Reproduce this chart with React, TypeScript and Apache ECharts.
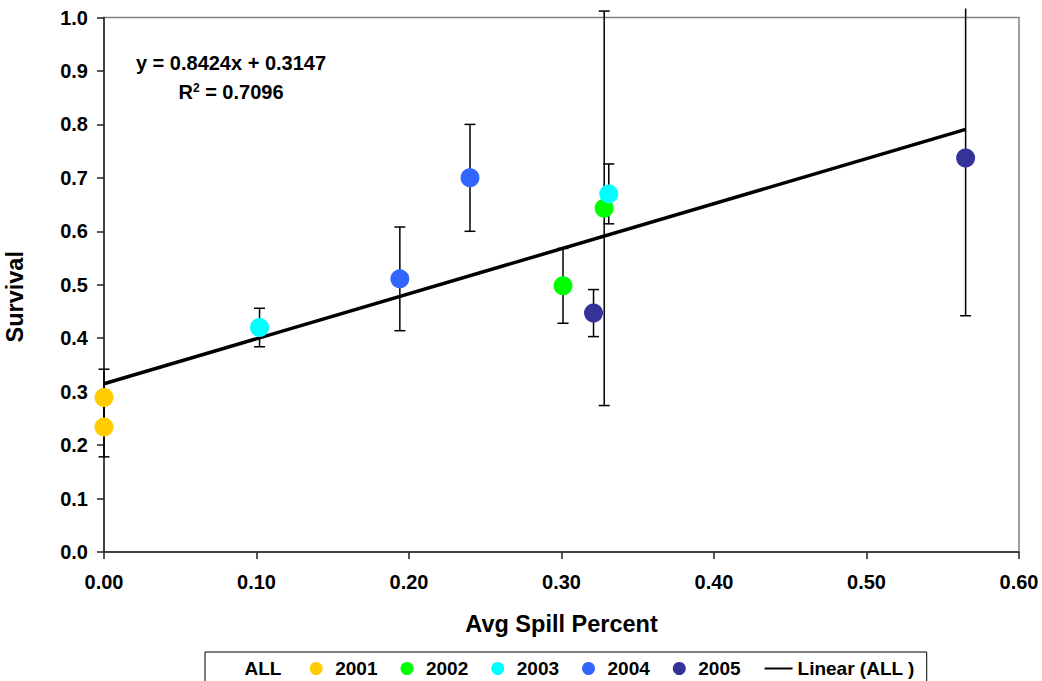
import React, { useEffect, useRef } from "react";
import * as echarts from "echarts";

const FONT = "'Liberation Sans', Arial, sans-serif";

const years = ["2001", "2002", "2003", "2004", "2005"];
const yearColors = ["#FFCC00", "#00FF00", "#00FFFF", "#3366FF", "#333399"];

const x2001 = [0.0, 0.0];
const y2001 = [0.289, 0.234];
const e2001 = [0.053, 0.056];

const x2002 = [0.301, 0.328];
const y2002 = [0.498, 0.643];
const e2002 = [0.07, 0.369];

const x2003 = [0.102, 0.331];
const y2003 = [0.42, 0.67];
const e2003 = [0.036, 0.056];

const x2004 = [0.194, 0.24];
const y2004 = [0.511, 0.7];
const e2004 = [0.097, 0.1];

const x2005 = [0.321, 0.565];
const y2005 = [0.447, 0.737];
const e2005 = [0.044, 0.295];

const slope = 0.8424;
const intercept = 0.3147;
const rSquared = 0.7096;
const trendX = [0.0, 0.565];

const errorClipMax = 1.017;

const xs = [x2001, x2002, x2003, x2004, x2005];
const ys = [y2001, y2002, y2003, y2004, y2005];
const es = [e2001, e2002, e2003, e2004, e2005];

export default function App() {
  const ref = useRef<HTMLDivElement>(null);

  useEffect(() => {
    if (!ref.current) return;
    const chart = echarts.init(ref.current, null, { renderer: "svg" });

    const errData: number[][] = [];
    xs.forEach((arr, i) =>
      arr.forEach((x, j) => errData.push([x, ys[i][j], es[i][j]]))
    );
    const allData: number[][] = [];
    xs.forEach((arr, i) => arr.forEach((x, j) => allData.push([x, ys[i][j]])));

    const labelStyle = {
      color: "#000",
      fontFamily: FONT,
      fontWeight: "bold" as const,
      fontSize: 20,
    };

    const series: any[] = [
      {
        type: "custom",
        name: "errbars",
        data: errData,
        clip: false,
        z: 2,
        renderItem: (params: any, api: any) => {
          const x = api.value(0);
          const y = api.value(1);
          const e = api.value(2);
          const hi = Math.min(y + e, errorClipMax);
          const lo = y - e;
          const pHi = api.coord([x, hi]);
          const pLo = api.coord([x, lo]);
          const cw = 5.5;
          const children: any[] = [
            {
              type: "line",
              shape: { x1: pHi[0], y1: pHi[1], x2: pLo[0], y2: pLo[1] },
              style: { stroke: "#000", lineWidth: 1.5 },
            },
            {
              type: "line",
              shape: { x1: pLo[0] - cw, y1: pLo[1], x2: pLo[0] + cw, y2: pLo[1] },
              style: { stroke: "#000", lineWidth: 1.5 },
            },
          ];
          if (y + e <= errorClipMax) {
            children.push({
              type: "line",
              shape: { x1: pHi[0] - cw, y1: pHi[1], x2: pHi[0] + cw, y2: pHi[1] },
              style: { stroke: "#000", lineWidth: 1.5 },
            });
          }
          return { type: "group", children };
        },
      },
      {
        type: "scatter",
        name: "ALL ",
        data: allData,
        symbolSize: 0,
        itemStyle: { opacity: 0 },
        clip: false,
        silent: true,
      },
      {
        type: "line",
        name: "Linear (ALL )",
        data: trendX.map((x) => [x, slope * x + intercept]),
        symbol: "none",
        showSymbol: false,
        lineStyle: { color: "#000", width: 3.5 },
        itemStyle: { color: "#000" },
        z: 3,
      },
    ];

    years.forEach((yr, i) => {
      series.push({
        type: "scatter",
        name: yr,
        data: xs[i].map((x, j) => [x, ys[i][j]]),
        symbol: "circle",
        symbolSize: 19,
        itemStyle: { color: yearColors[i], opacity: 1 },
        clip: false,
        z: 4,
      });
    });

    chart.setOption({
      animation: false,
      backgroundColor: "#fff",
      grid: {
        left: 104,
        right: 23,
        top: 17.5,
        bottom: 129,
        show: true,
        borderColor: "#808080",
        borderWidth: 1.5,
        backgroundColor: "transparent",
        outerBoundsMode: "none",
        containLabel: false,
      },
      xAxis: {
        type: "value",
        min: 0,
        max: 0.6,
        interval: 0.1,
        name: "Avg Spill Percent",
        nameLocation: "middle",
        nameGap: 60,
        nameTextStyle: { ...labelStyle, fontSize: 23.5 },
        axisLine: { show: true, onZero: false, lineStyle: { color: "#222", width: 1.5 } },
        axisTick: { show: true, inside: false, length: 7, lineStyle: { color: "#222", width: 1.5 } },
        axisLabel: {
          ...labelStyle,
          margin: 20,
          formatter: (v: number) => v.toFixed(2),
        },
        splitLine: { show: false },
      },
      yAxis: {
        type: "value",
        min: 0,
        max: 1,
        interval: 0.1,
        name: "Survival",
        nameLocation: "middle",
        nameGap: 77,
        nameTextStyle: { ...labelStyle, fontSize: 23.5, padding: [0, 24, 0, 0] },
        axisLine: { show: true, onZero: false, lineStyle: { color: "#222", width: 1.5 } },
        axisTick: { show: true, inside: false, length: 7, lineStyle: { color: "#222", width: 1.5 } },
        axisLabel: {
          ...labelStyle,
          margin: 16,
          formatter: (v: number) => v.toFixed(1),
        },
        splitLine: { show: false },
      },
      legend: {
        left: 205,
        top: 652,
        orient: "horizontal",
        padding: [7, 12, 12, 14],
        itemGap: 23,
        itemWidth: 28,
        itemHeight: 13,
        borderColor: "#000",
        borderWidth: 1,
        borderRadius: 0,
        backgroundColor: "#fff",
        selectedMode: false,
        textStyle: { ...labelStyle, fontSize: 19 },
        data: [
          { name: "ALL ", itemStyle: { opacity: 0 } },
          ...years.map((y) => ({ name: y, icon: "circle" })),
          { name: "Linear (ALL )", itemStyle: { opacity: 0 } },
        ],
      },
      graphic: [
        {
          type: "text",
          x: 231,
          y: 63,
          style: {
            text: `y = ${slope.toFixed(4)}x + ${intercept.toFixed(4)}`,
            fill: "#000",
            font: `bold 20px ${FONT}`,
            textAlign: "center",
            textVerticalAlign: "middle",
          },
        },
        {
          type: "text",
          x: 231,
          y: 92,
          style: {
            text: `{a|R}{s|2}{a| = ${rSquared.toFixed(4)}}`,
            textAlign: "center",
            textVerticalAlign: "middle",
            rich: {
              a: { fontFamily: FONT, fontWeight: "bold", fontSize: 20, fill: "#000", color: "#000" },
              s: {
                fontFamily: FONT,
                fontWeight: "bold",
                fontSize: 12,
                fill: "#000",
                color: "#000",
                verticalAlign: "top",
                padding: [0, 0, 8, 0],
              },
            },
          },
        },
      ],
      series,
    });

    return () => chart.dispose();
  }, []);

  return (
    <div
      ref={ref}
      style={{ position: "fixed", left: 0, top: 0, width: 1042, height: 681 }}
    />
  );
}
